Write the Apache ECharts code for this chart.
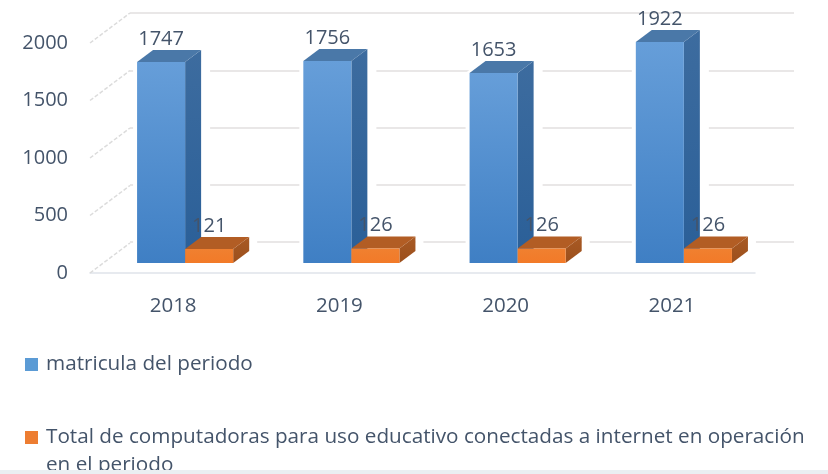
<!DOCTYPE html>
<html><head><meta charset="utf-8">
<style>html,body{margin:0;padding:0;background:#fff}#c{width:828px;height:474px}#c canvas{filter:blur(.5px)}</style>
<script src="https://cdn.jsdelivr.net/npm/echarts@6/dist/echarts.min.js"></script>
</head><body><div id="c"></div>
<script>
var years = ['2018','2019','2020','2021'];
var matricula = [1747,1756,1653,1922];
var computadoras = [121,126,126,126];
var valueTicks = [0,500,1000,1500,2000];
var nameMatricula = 'matricula del periodo';
var nameComputadoras = 'Total de computadoras para uso educativo conectadas a internet en operación';
var nameComputadorasCont = 'en el periodo';

var FONT = '"Open Sans", sans-serif', INK = '#44546a';
var DX = 16, DY = -12;      // bar depth
var SHIFT_Y = -10;          // bars stand behind the front floor edge

function lin(a,b,vertical){return new echarts.graphic.LinearGradient(0,0,vertical?0:1,vertical?1:0,[{offset:0,color:a},{offset:1,color:b}]);}

function barSeries(name, values, startFrac, pal, labelDy, zlevelZ, haloFn){
  return {
    type:'custom', name:name, xAxisIndex:0, yAxisIndex:0, clip:false, z:zlevelZ,
    itemStyle:{color:pal.legend},
    encode:{x:0,y:1},
    data:values.map(function(v,i){return [i,v];}),
    renderItem:function(params,api){
      var top=api.coord([api.value(0),api.value(1)]), base=api.coord([api.value(0),0]);
      var band=api.size([1,0])[0], w=band*0.289;
      var x0=base[0]+band*startFrac, x1=x0+w, yb=base[1]+SHIFT_Y, yt=top[1]+SHIFT_Y;
      var ch=[];
      if(haloFn){ch.push(haloFn(x0,x1,yb,yt));}
      ch.push({type:'polygon',shape:{points:[[x1,yb],[x1+DX,yb+DY],[x1+DX,yt+DY],[x1,yt]]},style:{fill:lin(pal.side[0],pal.side[1],true)}});
      ch.push({type:'polygon',shape:{points:[[x0,yt],[x0+DX,yt+DY],[x1+DX,yt+DY],[x1,yt]]},style:{fill:pal.top}});
      ch.push({type:'rect',shape:{x:x0,y:yt,width:w,height:yb-yt},style:{fill:lin(pal.front[0],pal.front[1],true)}});
      ch.push({type:'text',style:{text:String(api.value(1)),x:(x0+x1)/2,y:yt-labelDy,align:'center',verticalAlign:'middle',fill:INK,font:'20px '+FONT},z2:10});
      return {type:'group',children:ch};
    }
  };
}

var chart = echarts.init(document.getElementById('c'),null,{renderer:'canvas'});
chart.setOption({
  animation:false, backgroundColor:'#fff',
  grid:[
    {left:90,width:665,top:43,height:230},
    {left:130,width:664,top:13,height:229}
  ],
  xAxis:[
    {type:'category',gridIndex:0,data:years,axisLine:{show:true,lineStyle:{color:'#dfe3ea',width:1.5}},axisTick:{show:false},
     axisLabel:{color:INK,fontFamily:FONT,fontSize:20.5,margin:23}},
    {type:'category',gridIndex:1,data:years,show:false}
  ],
  yAxis:[
    {type:'value',gridIndex:0,min:0,max:2000,interval:500,axisLine:{show:false},axisTick:{show:false},splitLine:{show:false},
     axisLabel:{color:INK,fontFamily:FONT,fontSize:20,margin:22,padding:[4,0,0,0],formatter:function(v){return String(v);}}},
    {type:'value',gridIndex:1,min:0,max:2000,interval:500,axisLine:{show:false},axisTick:{show:false},axisLabel:{show:false},
     splitLine:{show:true,lineStyle:{color:'#e2dfdf',width:1.5}}}
  ],
  legend:[
    {data:[nameMatricula],left:20,top:349,itemWidth:13,itemHeight:13,itemGap:0,icon:'rect',selectedMode:false,
     textStyle:{color:INK,fontFamily:FONT,fontSize:20.7,padding:[0,0,0,3]}},
    {data:[nameComputadoras],left:20,top:422,itemWidth:13,itemHeight:13,itemGap:0,icon:'rect',selectedMode:false,
     textStyle:{color:INK,fontFamily:FONT,fontSize:20.7,padding:[0,0,0,3]}}
  ],
  series:[
    {type:'custom',name:'depth',xAxisIndex:0,yAxisIndex:0,clip:false,z:1,encode:{x:0,y:1},silent:true,
     data:valueTicks.map(function(v){return [0,v];}),
     renderItem:function(params,api){
       var p=api.coord([0,api.value(1)]), x=params.coordSys.x;
       return {type:'line',shape:{x1:x,y1:p[1],x2:x+40,y2:p[1]-30},style:{stroke:'#dcdcdc',lineWidth:1.5,lineDash:[4,2]}};
     }},
    barSeries(nameMatricula,matricula,-36/166,
      {front:['#669ed9','#3f7fc4'],side:['#3d6c9f','#2a5f98'],top:'#4a78a8',legend:'#5b9bd5'},23,3,
      function(x0,x1,yb,yt){return {type:'polygon',shape:{points:[[x0-4,yb],[x0-4,yt],[x0+DX,yt+DY-4],[x1+DX+9,yt+DY-4],[x1+DX+9,yb+DY],[x1,yb]]},style:{fill:'#fff'}};}),
    barSeries(nameComputadoras,computadoras,12/166,
      {front:['#f08030','#f27a28'],side:['#a85a24','#9c4f1c'],top:'#b25d24',legend:'#ed7d31'},23,4,
      function(x0,x1,yb,yt){return {type:'rect',shape:{x:x1+DX,y:yt+DY-2,width:8,height:yb-yt+4},style:{fill:'#fff'}};})
  ],
  graphic:[
    {type:'text',left:46,top:455,z:50,style:{text:nameComputadorasCont,fill:INK,font:'20.7px '+FONT}},
    {type:'rect',left:0,top:470,z:60,shape:{width:828,height:4},style:{fill:'#eaeef2'}}
  ]
});
</script></body></html>
